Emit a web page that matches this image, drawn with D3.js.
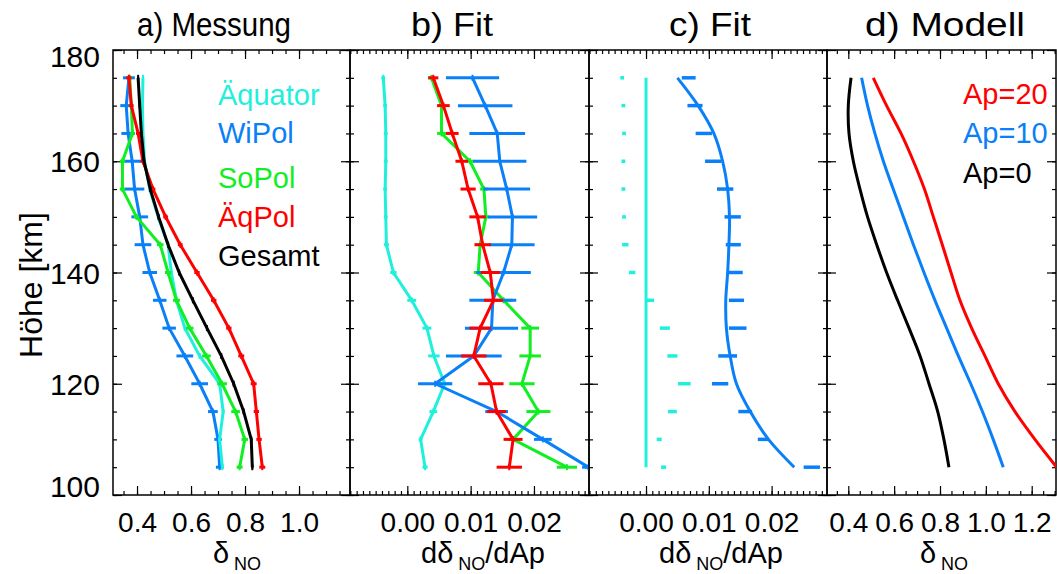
<!DOCTYPE html>
<html><head><meta charset="utf-8">
<script src="https://cdn.jsdelivr.net/npm/d3@7"></script>
<style>
html,body{margin:0;padding:0;background:#fff;}
svg{display:block;font-family:"Liberation Sans",Arial,Helvetica,sans-serif;}
</style></head>
<body>
<svg id="c" width="1057" height="574"></svg>
<script>
// ---------- data ----------
const alt = [175,170,165,160,155,150,145,140,135,130,125,120,115,110,105];

// panel a) Messung (delta_NO)
const aAequator = [0.422,0.420,0.422,0.428,0.447,0.478,0.515,0.527,0.546,0.577,0.632,0.706,0.719,0.706,0.716];
const aAequatorErr = [0.003,0.003,0.003,0.003,0.003,0.003,0.003,0.004,0.004,0.004,0.004,0.005,0.005,0.005,0.005];
const aWiPol = [0.370,0.360,0.367,0.382,0.391,0.410,0.422,0.447,0.484,0.519,0.577,0.632,0.681,0.700,0.706];
const aWiPolErr = [0.022,0.022,0.025,0.035,0.036,0.031,0.031,0.027,0.025,0.025,0.031,0.031,0.018,0.014,0.014];
const aSoPol = [0.373,0.379,0.383,0.346,0.346,0.398,0.486,0.515,0.546,0.595,0.657,0.715,0.765,0.799,0.780];
const aSoPolErr = [0.008,0.008,0.008,0.010,0.010,0.010,0.012,0.012,0.013,0.014,0.016,0.018,0.016,0.012,0.011];
const aAeqPol = [0.370,0.379,0.404,0.422,0.459,0.506,0.560,0.622,0.684,0.740,0.786,0.832,0.842,0.852,0.864];
const aAeqPolErr = [0.010,0.008,0.008,0.009,0.009,0.009,0.009,0.010,0.010,0.010,0.011,0.011,0.010,0.010,0.011];
const aGesamt = [0.404,0.410,0.416,0.426,0.449,0.480,0.515,0.556,0.607,0.659,0.712,0.758,0.795,0.823,0.827];
const aGesamtErr = [0.004,0.004,0.004,0.004,0.004,0.004,0.004,0.004,0.004,0.004,0.004,0.004,0.004,0.004,0.004];

// panel b) Fit (d delta_NO / dAp)
const bAequator = [-0.0038,-0.0035,-0.0034,-0.0034,-0.0035,-0.0034,-0.0033,-0.0022,0.0007,0.0031,0.0042,0.0059,0.0041,0.0021,0.0028];
const bAequatorErr = [0.0003,0.0003,0.0003,0.0003,0.0003,0.0003,0.0004,0.0005,0.0007,0.0007,0.0009,0.0011,0.0006,0.0003,0.0004];
const bWiPol = [0.0103,0.0123,0.0142,0.0146,0.0157,0.0166,0.0165,0.0152,0.0135,0.0133,0.0105,0.0044,0.0141,0.0214,0.0286];
const bWiPolErr = [0.0042,0.0043,0.0044,0.0042,0.0037,0.0039,0.0036,0.0043,0.0037,0.0042,0.0044,0.0027,0.0018,0.0014,0.0010];
const bSoPol = [0.0038,0.0054,0.0054,0.0099,0.0121,0.0124,0.0115,0.0112,0.0152,0.0194,0.0194,0.0181,0.0207,0.0167,0.0252];
const bSoPolErr = [0.0005,0.0005,0.0007,0.0007,0.0006,0.0006,0.0006,0.0007,0.0014,0.0014,0.0017,0.0020,0.0019,0.0008,0.0016];
const bAeqPol = [0.0041,0.0057,0.0071,0.0086,0.0096,0.0111,0.0119,0.0131,0.0136,0.0115,0.0105,0.0132,0.0141,0.0167,0.0161];
const bAeqPolErr = [0.0008,0.0010,0.0010,0.0010,0.0012,0.0013,0.0013,0.0015,0.0015,0.0017,0.0020,0.0020,0.0015,0.0015,0.0020];

// panel c) Fit
const cAequatorData = [-0.0038,-0.0036,-0.0035,-0.0036,-0.0036,-0.0035,-0.0033,-0.0022,0.0006,0.0030,0.0042,0.0061,0.0042,0.0021,0.0028];
const cAequatorErr = [0.0003,0.0003,0.0003,0.0003,0.0003,0.0003,0.0005,0.0005,0.0007,0.0008,0.0008,0.0010,0.0007,0.0004,0.0004];
const cAequatorFit = [0,0,0,0,0,0,0,0,0,0,0,0,0,0,0];
const cWiPolData = [0.0068,0.0078,0.0092,0.0107,0.0126,0.0138,0.0139,0.0142,0.0144,0.0146,0.0130,0.0118,0.0158,0.0187,0.0264];
const cWiPolErr = [0.0011,0.0012,0.0013,0.0013,0.0013,0.0013,0.0012,0.0012,0.0012,0.0014,0.0015,0.0013,0.0011,0.0009,0.0013];
const cWiPolFit = [0.0050,0.0083,0.0108,0.0122,0.0130,0.0133,0.0132,0.0130,0.0127,0.0128,0.0134,0.0144,0.0166,0.0195,0.0236];

// panel d) Modell (delta_NO)
const dAp0 = [0.412,0.400,0.403,0.422,0.451,0.484,0.524,0.567,0.615,0.665,0.713,0.752,0.790,0.817,0.839];
const dAp10 = [0.458,0.484,0.516,0.553,0.596,0.640,0.684,0.730,0.778,0.829,0.880,0.934,0.985,1.032,1.076];
const dAp20 = [0.509,0.567,0.630,0.684,0.732,0.771,0.810,0.848,0.887,0.938,0.996,1.054,1.127,1.214,1.309];

const titles = ["a) Messung","b) Fit","c) Fit","d) Modell"];
const yTicks = [100,120,140,160,180];
const aTicks = [0.4,0.6,0.8,1.0];
const bTicks = [0.00,0.01,0.02];
const dTicks = [0.4,0.6,0.8,1.0,1.2];
const legendA = ["Äquator","WiPol","SoPol","ÄqPol","Gesamt"];
const legendD = ["Ap=20","Ap=10","Ap=0"];

// ---------- styling ----------
const COL = {cyan:"#1ff0dc", blue:"#0a80f8", green:"#11ee22", red:"#ff0000", black:"#000000"};
const svg = d3.select("#c");
const FONT = "'Liberation Sans',Arial,Helvetica,sans-serif";

const y = d3.scaleLinear().domain([100,180]).range([495,50]);

const panels = [
  {x0:113, x1:350, domain:[0.311,1.1888], major:aTicks, minorStep:0.05, fmt:d3.format(".1f")},
  {x0:350, x1:589, domain:[-0.00905,0.02869], major:bTicks, minorStep:0.001, fmt:d3.format(".2f")},
  {x0:589, x1:827, domain:[-0.00908,0.02882], major:bTicks, minorStep:0.001, fmt:d3.format(".2f")},
  {x0:827, x1:1056, domain:[0.3071,1.306], major:dTicks, minorStep:0.05, fmt:d3.format(".1f")}
];

function minorValues(dom, step){
  const out=[]; const s=Math.ceil(dom[0]/step-1e-9);
  for(let k=s; k*step<=dom[1]+1e-12; k++) out.push(+(k*step).toFixed(6));
  return out;
}
const yMinor = minorValues([100,180],5);

panels.forEach((p,i)=>{
  p.x = d3.scaleLinear().domain(p.domain).range([p.x0,p.x1]);
  const g = svg.append("g");
  p.g = g;
  const clipId = "clip"+i;
  svg.append("clipPath").attr("id",clipId).append("rect")
    .attr("x",p.x0).attr("y",y(180)).attr("width",p.x1-p.x0).attr("height",y(100)-y(180));
  p.plot = svg.append("g").attr("clip-path",`url(#${clipId})`);

  const minors = minorValues(p.domain,p.minorStep);
  g.append("g").attr("transform",`translate(0,${y(100)})`)
    .call(d3.axisBottom(p.x).tickValues(minors).tickSize(-4).tickFormat(""))
    .call(a=>a.select(".domain").remove());
  g.append("g").attr("class","xb").attr("transform",`translate(0,${y(100)})`)
    .call(d3.axisBottom(p.x).tickValues(p.major).tickSize(-9).tickPadding(17).tickFormat(p.fmt))
    .call(a=>a.select(".domain").remove())
    .call(a=>a.selectAll("text").attr("font-size",28).attr("font-family",FONT).attr("fill","#000"));
  g.append("g").attr("transform",`translate(0,${y(180)})`)
    .call(d3.axisTop(p.x).tickValues(minors).tickSize(-4).tickFormat(""))
    .call(a=>a.select(".domain").remove());
  g.append("g").attr("transform",`translate(0,${y(180)})`)
    .call(d3.axisTop(p.x).tickValues(p.major).tickSize(-9).tickFormat(""))
    .call(a=>a.select(".domain").remove());
  [["L",p.x0,d3.axisLeft],["R",p.x1,d3.axisRight]].forEach(([s,xx,ax])=>{
    g.append("g").attr("transform",`translate(${xx},0)`)
      .call(ax(y).tickValues(yMinor).tickSize(-4).tickFormat(""))
      .call(a=>a.select(".domain").remove());
    const big = g.append("g").attr("transform",`translate(${xx},0)`)
      .call(ax(y).tickValues(yTicks).tickSize(-9)
        .tickFormat(i===0 && s==="L" ? d3.format("d") : ""))
      .call(a=>a.select(".domain").remove());
    if(i===0 && s==="L"){
      big.selectAll("text").attr("font-size",30).attr("font-family",FONT).attr("fill","#000")
        .attr("x",-13)
        .attr("dy",d=> d===180 ? "0.55em" : d===100 ? "0.05em" : "0.35em");
    }
  });
  g.selectAll("line").attr("stroke","#000").attr("stroke-width",1.2);
  g.append("rect").attr("x",p.x0).attr("y",y(180)).attr("width",p.x1-p.x0).attr("height",y(100)-y(180))
    .attr("fill","none").attr("stroke","#000").attr("stroke-width",1.5);
});

// titles
const titleX = [214,452,710,945];
const titleLen = [154,82,82,160];
titles.forEach((t,i)=>{
  svg.append("text").attr("x",titleX[i]).attr("y",36).attr("text-anchor","middle")
    .attr("font-size",34).attr("font-family",FONT)
    .attr("textLength",titleLen[i]).attr("lengthAdjust","spacingAndGlyphs").text(t);
});

// y axis title
svg.append("text").attr("transform","translate(42,285) rotate(-90)").attr("text-anchor","middle")
  .attr("font-size",32).attr("font-family",FONT).text("Höhe [km]");

// x axis titles
function deltaLabel(cx, withD){
  const t = svg.append("text").attr("x",cx).attr("y",563).attr("text-anchor","middle")
    .attr("font-size",29).attr("font-family",FONT);
  if(withD){
    t.append("tspan").text("dδ");
    t.append("tspan").attr("font-size",18).attr("dy",7).text(" NO");
    t.append("tspan").attr("dy",-7).text("/dAp");
  } else {
    t.append("tspan").text("δ");
    t.append("tspan").attr("font-size",18).attr("dy",7).text(" NO");
  }
}
deltaLabel(237,false);
deltaLabel(483,true);
deltaLabel(721,true);
deltaLabel(944,false);

// ---------- drawing helpers ----------
function series(p, vals, color, opts={}){
  const pts = alt.map((a,k)=>[vals[k],a]);
  const line = d3.line().x(d=>p.x(d[0])).y(d=>y(d[1]));
  if(opts.curve) line.curve(opts.curve);
  if(opts.line!==false){
    p.plot.append("path").datum(pts).attr("d",line).attr("fill","none")
      .attr("stroke",color).attr("stroke-width",opts.lw||3).attr("stroke-linejoin","round");
  }
  if(opts.err){
    p.plot.append("g").selectAll("line").data(pts).join("line")
      .attr("x1",(d,k)=>p.x(d[0]-opts.err[k])).attr("x2",(d,k)=>p.x(d[0]+opts.err[k]))
      .attr("y1",d=>y(d[1])).attr("y2",d=>y(d[1]))
      .attr("stroke",color).attr("stroke-width",opts.elw||3);
  }
  if(opts.marks){
    p.plot.append("g").selectAll("line").data(pts).join("line")
      .attr("x1",d=>p.x(d[0])).attr("x2",d=>p.x(d[0]))
      .attr("y1",d=>y(d[1])-3).attr("y2",d=>y(d[1])+3)
      .attr("stroke",color).attr("stroke-width",2);
  }
}

// panel a
const pa = panels[0];
series(pa,aWiPol,COL.blue,{err:aWiPolErr,marks:true});
series(pa,aAequator,COL.cyan,{err:aAequatorErr,marks:true});
series(pa,aSoPol,COL.green,{err:aSoPolErr,marks:true});
series(pa,aAeqPol,COL.red,{err:aAeqPolErr,marks:true});
series(pa,aGesamt,COL.black,{err:aGesamtErr,marks:true});
const legColA = [COL.cyan,COL.blue,COL.green,COL.red,COL.black];
const legYA = [105,143,188,227,266];
legendA.forEach((t,k)=>svg.append("text").attr("x",218).attr("y",legYA[k])
  .attr("font-size",29).attr("font-family",FONT).attr("fill",legColA[k]).text(t));

// panel b
const pb = panels[1];
series(pb,bAequator,COL.cyan,{err:bAequatorErr,marks:true});
series(pb,bSoPol,COL.green,{err:bSoPolErr,marks:true});
series(pb,bWiPol,COL.blue,{err:bWiPolErr,marks:true});
series(pb,bAeqPol,COL.red,{err:bAeqPolErr,marks:true});

// panel c
const pc = panels[2];
series(pc,cAequatorFit,COL.cyan,{lw:3});
series(pc,cAequatorData,COL.cyan,{line:false,err:cAequatorErr,elw:3.5});
series(pc,cWiPolFit,COL.blue,{lw:3,curve:d3.curveCatmullRom});
series(pc,cWiPolData,COL.blue,{line:false,err:cWiPolErr,elw:3.5});

// panel d
const pd = panels[3];
series(pd,dAp0,COL.black,{lw:3,curve:d3.curveCatmullRom});
series(pd,dAp10,COL.blue,{lw:3,curve:d3.curveCatmullRom});
series(pd,dAp20,COL.red,{lw:3,curve:d3.curveCatmullRom});
const legColD = [COL.red,COL.blue,COL.black];
const legYD = [104,143,183];
legendD.forEach((t,k)=>svg.append("text").attr("x",963).attr("y",legYD[k])
  .attr("font-size",29).attr("font-family",FONT).attr("fill",legColD[k]).text(t));
</script>
</body></html>
